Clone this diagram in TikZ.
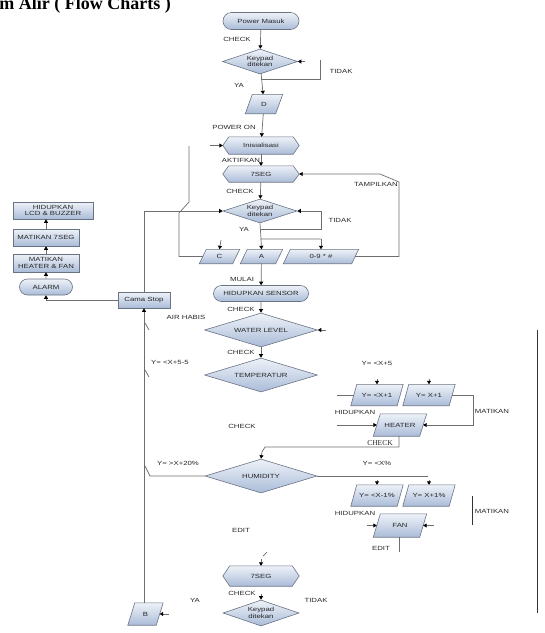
\documentclass[tikz,border=0pt]{standalone}
\usepackage{fontspec}
\setmainfont{Liberation Serif}
\newfontfamily\lbl[FakeStretch=1.3]{Liberation Sans}
\usetikzlibrary{shapes.geometric,shapes.misc,arrows.meta}
\definecolor{bordc}{HTML}{6A7384}
\definecolor{linec}{HTML}{6E6E6E}
\definecolor{fillA}{HTML}{EEF2F8}
\definecolor{fillB}{HTML}{AABCD8}
\pgfdeclarelayer{bg}
\pgfsetlayers{bg,main}
\tikzset{
 txt/.style={font=\lbl\fontsize{6}{6.6}\selectfont, text=black!85, align=center, inner sep=0pt},
 shapefill/.style={draw=bordc, line width=0.6pt, top color=fillA, bottom color=fillB},
 termbox/.style={txt, shapefill, rounded rectangle},
 boxrect/.style={txt, shapefill, rectangle},
 dec/.style={txt, shapefill, diamond},
 plain/.style={txt, rectangle},
 tag/.style={txt},
 ln/.style={draw=linec, line width=0.7pt},
 arr/.style={ln, -{Triangle[length=3.5pt,width=4pt,color=black]}},
}
\begin{document}
\begin{tikzpicture}[x=1pt,y=-1pt]
\useasboundingbox (0,0) rectangle (545,633);

% title
\node[anchor=base east, inner sep=0pt, font=\bfseries\fontsize{18}{20}\selectfont] (title) at (171,9) {Diagram Alir ( Flow Charts )};

% main column
\node[termbox, minimum width=76pt, minimum height=17pt] (pm) at (261,21) {Power Masuk};
\node[dec, aspect=3, minimum width=75pt, minimum height=25pt] (k1) at (260,61.5) {Keypad\\ditekan};
\node[plain, minimum width=37pt, minimum height=19pt] (d1) at (264,104) {D};
\node[plain, minimum width=76pt, minimum height=17pt] (init) at (261,145.5) {Inisialisasi};
\node[plain, minimum width=76pt, minimum height=16pt] (seg1) at (261,174) {7SEG};
\node[dec, aspect=3.08, minimum width=74pt, minimum height=24pt] (k2) at (260,211) {Keypad\\ditekan};
\node[plain, minimum width=40pt, minimum height=14pt] (pc) at (219.5,256.5) {C};
\node[plain, minimum width=42pt, minimum height=14pt] (pa) at (261.5,256.5) {A};
\node[plain, minimum width=75pt, minimum height=14pt] (p09) at (321,256.5) {0-9 * \#};
\node[termbox, minimum width=95pt, minimum height=16pt] (sensor) at (261,293.5) {HIDUPKAN SENSOR};
\node[dec, aspect=3.32, minimum width=113pt, minimum height=34pt] (water) at (261,330) {WATER LEVEL};
\node[dec, aspect=3.32, minimum width=113pt, minimum height=34pt] (temp) at (261,375) {TEMPERATUR};
\node[plain, minimum width=52pt, minimum height=21pt] (py1) at (377,395) {Y= <X+1};
\node[plain, minimum width=52pt, minimum height=21pt] (py2) at (429,395) {Y= X+1};
\node[plain, minimum width=53pt, minimum height=22pt] (heater) at (400,425) {HEATER};
\node[dec, aspect=3.3, minimum width=112pt, minimum height=34pt] (hum) at (261,476) {HUMIDITY};
\node[plain, minimum width=52pt, minimum height=21pt] (ph1) at (377,495.5) {Y= <X-1\%};
\node[plain, minimum width=52pt, minimum height=21pt] (ph2) at (429,495.5) {Y= X+1\%};
\node[plain, minimum width=53pt, minimum height=23pt] (fan) at (400,525.5) {FAN};
\node[plain, minimum width=76pt, minimum height=20pt] (seg2) at (261,576) {7SEG};
\node[dec, aspect=2.92, minimum width=76pt, minimum height=26pt] (k3) at (261,613) {Keypad\\ditekan};
\node[plain, minimum width=35pt, minimum height=22pt] (pb) at (145.5,614) {B};

% left column
\node[boxrect, minimum width=80pt, minimum height=17pt] (lcd) at (53,210.5) {HIDUPKAN\\LCD \& BUZZER};
\node[boxrect, minimum width=66pt, minimum height=17pt] (tek) at (46,237.5) {MATIKAN 7SEG};
\node[boxrect, minimum width=66pt, minimum height=18pt] (mat) at (46,263) {MATIKAN\\HEATER \& FAN};
\node[termbox, minimum width=53pt, minimum height=16pt] (alarm) at (46,287) {ALARM};
\node[boxrect, minimum width=52pt, minimum height=16pt] (cama) at (144,300) {Cama Stop};

% background shapes (preparation hexagons, parallelograms)
\begin{pgfonlayer}{bg}
\foreach \n/\s in {init/6,seg1/6,seg2/7}
  \draw[shapefill] (\n.west) -- ([xshift=\s pt]\n.north west) -- ([xshift=-\s pt]\n.north east) -- (\n.east) -- ([xshift=-\s pt]\n.south east) -- ([xshift=\s pt]\n.south west) -- cycle;
\foreach \n/\s in {d1/7,pc/7,pa/7,p09/7,py1/6,py2/6,heater/7,ph1/6,ph2/6,fan/7,pb/7}
  \draw[shapefill] ([xshift=\s pt]\n.north west) -- (\n.north east) -- ([xshift=-\s pt]\n.south east) -- (\n.south west) -- cycle;
\end{pgfonlayer}

% labels
\node[tag] (lck1) at (237,39) {CHECK};
\node[tag] (lti1) at (341,71) {TIDAK};
\node[tag] (lya1) at (239,85) {YA};
\node[tag] (lpon) at (234,127) {POWER ON};
\node[tag] (lakt) at (241,160) {AKTIFKAN};
\node[tag] (lck2) at (240,191) {CHECK};
\node[tag] (ltam) at (376,184) {TAMPILKAN};
\node[tag] (lti2) at (340,220) {TIDAK};
\node[tag] (lya2) at (244,229) {YA};
\node[tag] (lmul) at (242,279) {MULAI};
\node[tag] (lck3) at (241,309) {CHECK};
\node[tag] (lair) at (186,317) {AIR HABIS};
\node[tag] (ly55) at (170,362) {Y= <X+5-5};
\node[tag] (lck4) at (241,352) {CHECK};
\node[tag] (ly5) at (377,363) {Y= <X+5};
\node[tag] (lhi1) at (355,412) {HIDUPKAN};
\node[tag] (lma1) at (492,411) {MATIKAN};
\node[tag, font=\fontsize{7.5}{8}\selectfont] (lck5) at (380,443) {CHECK};
\node[tag] (lck6) at (242,426) {CHECK};
\node[tag] (ly20) at (178,463) {Y= >X+20\%};
\node[tag] (lyx) at (377,463) {Y= <X\%};
\node[tag] (lhi2) at (355,513) {HIDUPKAN};
\node[tag] (lma2) at (492,511) {MATIKAN};
\node[tag] (led1) at (381,548) {EDIT};
\node[tag] (led2) at (241,530) {EDIT};
\node[tag] (lck7) at (242,593) {CHECK};
\node[tag] (lya3) at (195,600) {YA};
\node[tag] (lti3) at (316,600) {TIDAK};

% coordinates
\coordinate (t1a) at (261,79);
\coordinate (t1b) at (320,79);
\coordinate (t1c) at (320,60);
\coordinate (t1d) at (305,61.5);
\coordinate (ib) at (210,145.5);
\coordinate (t2a) at (261,229);
\coordinate (t2b) at (321,229);
\coordinate (t2c) at (321,211);
\coordinate (ya2a) at (261,239);
\coordinate (ya2b) at (321,239);
\coordinate (ya2c) at (221,240);
\coordinate (ca) at (179,256.5);
\coordinate (cb) at (179,213);
\coordinate (cc) at (189,202);
\coordinate (cd) at (189,146);
\coordinate (sa) at (399,256.5);
\coordinate (sb) at (399,182);
\coordinate (sc) at (380,174);

% connectors
\draw[arr] (pm) -- (k1);
\draw[arr] (k1) -- (d1);
\draw[ln] (t1a) -- (t1b) -- (t1c);
\draw[arr] (t1d) -- (k1.east);
\draw[arr] (d1) -- (init);
\draw[arr] (ib) -- (init.west);
\draw[arr] (init) -- (seg1);
\draw[arr] (seg1) -- (k2);
\draw[arr] (t2a) -- (t2b) -- (t2c) -- (k2.east);
\draw[ln] (k2.south) -- (ya2a) -- (ya2b);
\draw[arr] (ya2b) -- (p09.north);
\draw[arr] (ya2a) -- (pa.north);
\draw[arr] (ya2c) -- (pc.north);
\draw[ln] ([xshift=3.5pt]pc.west) -- (ca) -- (cb) -- (cc) -- (cd);
\draw[arr] ([xshift=-3.5pt]p09.east) -- (sa) -- (sb) -- (sc) -- (seg1.east);
\draw[arr] (cama.north) |- (k2.west);
\draw[arr] (cama.west) -| (alarm.south);
\draw[arr] (alarm) -- (mat);
\draw[arr] (mat) -- (tek);
\draw[arr] (tek.north) -- (tek.north |- lcd.south);
\draw[arr] (pa) -- (sensor);
\draw[arr] (sensor) -- (water);
\draw[arr] (water) -- (temp);
\coordinate (we) at (326,330);
\draw[arr] (we) -- (water.east);
\draw[ln] (145,323) -- (149,330);
\draw[ln] (145,370) -- (149,377);
\coordinate (y1s) at (377,379);
\coordinate (y2s) at (429,379);
\draw[arr] (y1s) -- (py1.north);
\draw[arr] (y2s) -- (py2.north);
\coordinate (py1l) at (337,395);
\draw[ln] (py1l) -- ([xshift=3pt]py1.west);
\coordinate (ma) at (473,395);
\coordinate (mb) at (473,425);
\draw[arr] ([xshift=-3pt]py2.east) -- (ma) -- (mb) -- ([xshift=-3.5pt]heater.east);
\coordinate (hl) at (337,425);
\draw[arr] (hl) -- ([xshift=3.5pt]heater.west);
\coordinate (ha) at (399,447);
\coordinate (hb) at (265,447);
\coordinate (hc) at (262,452);
\draw[arr] (heater.south -| ha) -- (ha) -- (hb) -- (hc) -- (hum.north);
\coordinate (hua) at (150,476);
\coordinate (hub) at (145,466);
\draw[ln] (hum.west) -- (hua) -- (hub);
\coordinate (huc) at (428,476);
\draw[ln] (hum.east) -- (huc);
\coordinate (f1s) at (377,480);
\coordinate (f2s) at (429,480);
\draw[arr] (f1s) -- (ph1.north);
\draw[arr] (f2s) -- (ph2.north);
\draw[draw=black!80, line width=0.7pt] (472,496) -- (472,525);
\coordinate (fl) at (367,525.5);
\coordinate (fr) at (434,525.5);
\draw[arr] (fl) -- ([xshift=3.5pt]fan.west);
\draw[arr] (fr) -- ([xshift=-3.5pt]fan.east);
\coordinate (fe) at (399,552);
\draw[ln] (fan.south -| fe) -- (fe);
\draw[ln] (263,556) -- (267,552);
\coordinate (s2s) at (261,559);
\draw[arr] (s2s) -- (seg2.north);
\coordinate (k3s) at (261,594);
\draw[arr] (k3s) -- (k3.north);
\draw[draw=black!80, line width=0.7pt] (537,330) -- (537,613);
\draw[arr] (pb.north -| cama.south) -- (cama.south);
\coordinate (pbs) at (169,614);
\draw[arr] (pbs) -- ([xshift=-3.5pt]pb.east);
\end{tikzpicture}
\end{document}
